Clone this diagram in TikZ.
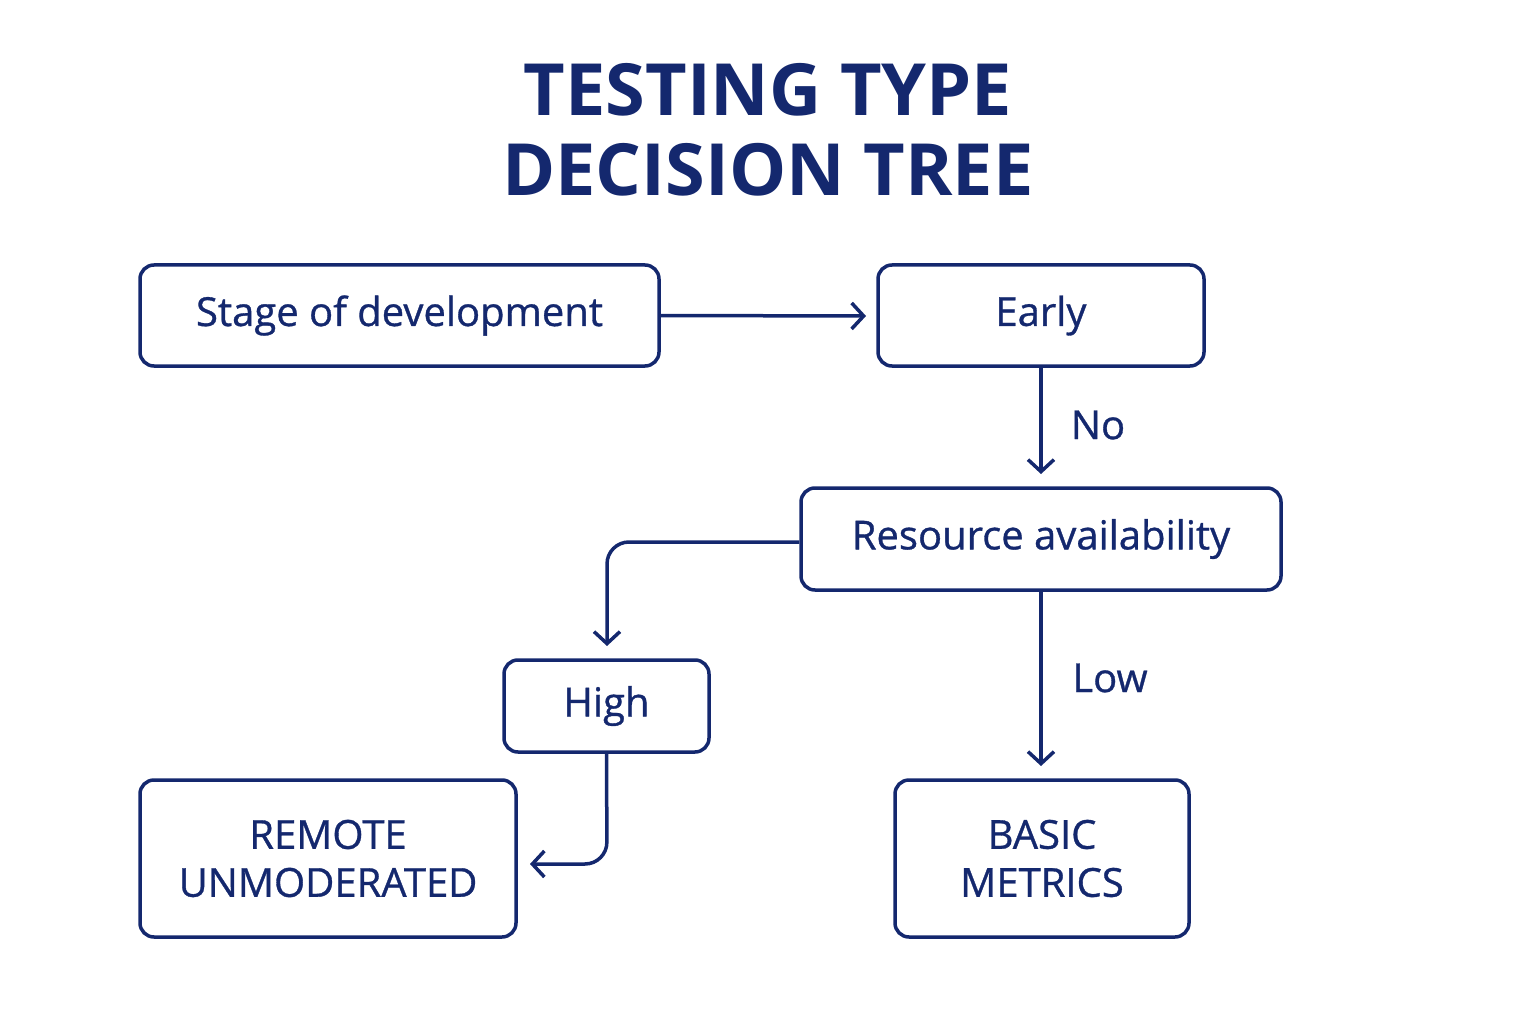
\documentclass[tikz,border=0pt]{standalone}
\usepackage{fontspec}
\setmainfont{Open Sans}
\usetikzlibrary{arrows.meta}
\definecolor{navy}{HTML}{14286E}
\begin{document}
\begin{tikzpicture}[x=1pt,y=-1pt,
  box/.style={draw=navy,line width=3.5pt,rounded corners=14pt,text=navy,font=\fontsize{40}{48}\selectfont\addfontfeatures{FakeBold=0.8},align=center,inner sep=0pt},
  conn/.style={draw=navy,line width=3.5pt,-{Straight Barb[length=12pt,width=26pt,line width=3.5pt]},rounded corners=22pt},
  lbl/.style={text=navy,font=\fontsize{40}{48}\selectfont\addfontfeatures{FakeBold=0.8}}]
\useasboundingbox (0,0) rectangle (1536,1024);
\node[text=navy,font=\fontsize{72}{80}\selectfont\bfseries,align=center] (title) at (768,130) {TESTING TYPE\\DECISION TREE};
\node[box,minimum width=519pt,minimum height=101pt] (stage) at (399.5,315.5) {Stage of development};
\node[box,minimum width=326pt,minimum height=101pt] (early) at (1041,315.5) {Early};
\node[box,minimum width=480pt,minimum height=102pt] (res) at (1041,539) {Resource availability};
\node[box,minimum width=205pt,minimum height=92pt] (high) at (606.5,706) {High};
\node[box,minimum width=376pt,minimum height=157pt] (remote) at (328,858.5) {REMOTE\\UNMODERATED};
\node[box,minimum width=294pt,minimum height=157pt] (basic) at (1042,858.5) {BASIC\\METRICS};
\coordinate (stageend) at (866,316);
\draw[conn] (stage.east) -- (stageend);
\coordinate (noend) at (1041,474);
\draw[conn] (early.south -| noend) -- (noend);
\node[lbl] (no) at (1098,425) {No};
\coordinate (hightop) at (607,646);
\draw[conn] (res.west |- 0,542) -- (607,542) -- (hightop);
\coordinate (remoteend) at (530,864);
\draw[conn] (high.south) -- (607,864) -- (remoteend);
\coordinate (lowend) at (1041,766);
\draw[conn] (res.south -| lowend) -- (lowend);
\node[lbl] (low) at (1110,678) {Low};
\end{tikzpicture}
\end{document}
